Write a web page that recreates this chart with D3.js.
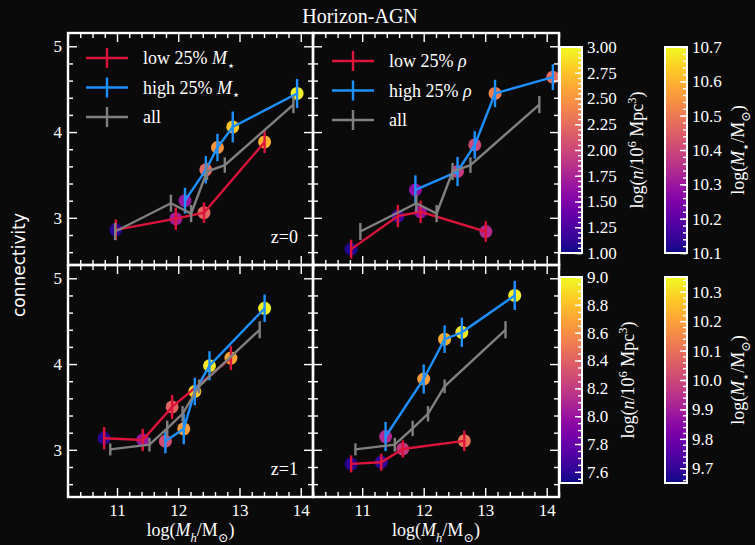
<!DOCTYPE html>
<html><head><meta charset="utf-8">
<script src="https://cdn.jsdelivr.net/npm/d3@7"></script>
<style>body{margin:0;background:#0a0a0a}svg{display:block}</style>
</head><body><svg id="c" width="755" height="545"></svg>
<script>
// ---------------- data ----------------
const xDomain = [10.2, 14.2];
const yDomain = [2.45, 5.155];
const xTicks = [11, 12, 13, 14];
const yTicks = [3, 4, 5];
// each row: [log(Mh/Msun), connectivity, error, colour value]
const z0_lowMstar  = [[10.98,2.86,0.12,1.10],[11.96,2.99,0.13,1.70],[12.42,3.06,0.12,2.22],[13.41,3.885,0.13,2.66]];
const z0_highMstar = [[12.11,3.20,0.15,1.66],[12.45,3.56,0.16,2.22],[12.64,3.82,0.16,2.50],[12.89,4.06,0.18,2.76],[13.94,4.45,0.17,2.96]];
const z0_lowRho    = [[10.82,2.635,0.11,10.12],[11.58,3.02,0.13,10.16],[11.95,3.07,0.13,10.28],[13.01,2.84,0.12,10.34]];
const z0_highRho   = [[11.865,3.325,0.17,10.28],[12.55,3.54,0.17,10.38],[12.83,3.85,0.16,10.40],[13.16,4.45,0.16,10.51],[14.10,4.64,0.15,10.47]];
const z0_all       = [[10.97,2.84,0.10],[11.88,3.17,0.10],[12.21,3.05,0.10],[12.47,3.54,0.10],[12.76,3.615,0.09],[13.88,4.32,0.10]];
const z1_lowMstar  = [[10.79,3.135,0.13,7.59],[11.42,3.115,0.13,8.01],[11.90,3.50,0.14,8.41],[12.86,4.07,0.14,8.70]];
const z1_highMstar = [[11.79,3.10,0.14,8.29],[12.09,3.245,0.18,8.67],[12.27,3.68,0.16,8.85],[12.51,3.98,0.17,8.94],[13.41,4.65,0.16,8.97]];
const z1_lowRho    = [[10.82,2.836,0.10,9.685],[11.31,2.855,0.10,9.70],[11.66,3.01,0.10,9.965],[12.66,3.105,0.12,10.105]];
const z1_highRho   = [[11.38,3.155,0.17,9.93],[12.00,3.826,0.17,10.19],[12.34,4.29,0.16,10.22],[12.62,4.37,0.17,10.315],[13.48,4.80,0.17,10.335]];
const z1_all       = [[10.89,3.005,0.07],[11.53,3.06,0.08],[11.82,3.25,0.09],[12.07,3.42,0.09],[12.34,3.74,0.08],[13.33,4.40,0.10]];
// colour bars
const cbDensZ0 = [1.0, 3.0],   cbDensZ0Ticks = d3.range(1.0, 3.001, 0.25),  cbDensZ0Minor = d3.range(1.0, 3.001, 0.05);
const cbMstZ0  = [10.1, 10.7], cbMstZ0Ticks  = d3.range(10.1, 10.701, 0.1), cbMstZ0Minor  = d3.range(10.1, 10.701, 0.02);
const cbDensZ1 = [7.52, 9.0],  cbDensZ1Ticks = d3.range(7.6, 9.001, 0.2),   cbDensZ1Minor = d3.range(7.55, 9.001, 0.05);
const cbMstZ1  = [9.65, 10.35],cbMstZ1Ticks  = d3.range(9.7, 10.301, 0.1), cbMstZ1Minor  = d3.range(9.66, 10.35, 0.02);

const RED = "#dc143c", BLUE = "#1e90ff", GREY = "#808080", FG = "#ffffff", BG = "#0a0a0a";
const SERIF = "'Liberation Serif','DejaVu Serif',serif";

const svg = d3.select("#c");
svg.append("rect").attr("width",755).attr("height",545).attr("fill",BG);

// rich text helper
function rich(sel, parts, size) {
  let off = 0;
  parts.forEach(p => {
    const ts = sel.append("tspan").text(p.t);
    let target = 0, fs = size;
    if (p.s === "sub") { target = size*0.32; fs = size*0.7; }
    if (p.s === "sup") { target = -size*0.38; fs = size*0.7; }
    ts.attr("dy", target - off).attr("font-size", fs);
    if (p.i) ts.attr("font-style","italic");
    off = target;
  });
}
const lblMstar = [{t:"log("},{t:"M",i:1},{t:"\u22c6",s:"sub"},{t:"/M"},{t:"\u2299",s:"sub"},{t:")"}];
const lblDens  = [{t:"log("},{t:"n",i:1},{t:"/10"},{t:"6",s:"sup"},{t:" Mpc"},{t:"3",s:"sup"},{t:")"}];
const lblMh    = [{t:"log("},{t:"M",i:1},{t:"h",i:1,s:"sub"},{t:"/M"},{t:"\u2299",s:"sub"},{t:")"}];

const panels = [
  {x0:68, x1:313, y0:33,  y1:265, low:z0_lowMstar, high:z0_highMstar, all:z0_all, cd:cbDensZ0, showY:true,  showX:false, z:"z=0",
   leg:[[{t:"low 25% "},{t:"M",i:1},{t:"\u22c6",s:"sub"}],[{t:"high 25% "},{t:"M",i:1},{t:"\u22c6",s:"sub"}],[{t:"all"}]], lx:86, ly:58},
  {x0:313,x1:559, y0:33,  y1:265, low:z0_lowRho, high:z0_highRho, all:z0_all, cd:cbMstZ0, showY:false, showX:false, z:null,
   leg:[[{t:"low 25% "},{t:"\u03c1",i:1}],[{t:"high 25% "},{t:"\u03c1",i:1}],[{t:"all"}]], lx:332, ly:61},
  {x0:68, x1:313, y0:265, y1:497, low:z1_lowMstar, high:z1_highMstar, all:z1_all, cd:cbDensZ1, showY:true,  showX:true, z:"z=1", leg:null},
  {x0:313,x1:559, y0:265, y1:497, low:z1_lowRho, high:z1_highRho, all:z1_all, cd:cbMstZ1, showY:false, showX:true, z:null, leg:null}
];

function styleAxis(g, labels) {
  g.select(".domain").remove();
  g.selectAll(".tick line").attr("stroke",FG).attr("stroke-width",1.4);
  g.selectAll(".tick text").attr("fill",FG).attr("font-family",SERIF).attr("font-size",17);
  if (!labels) g.selectAll(".tick text").remove();
}
const minorX = d3.range(10.2, 14.21, 0.2).filter(v => Math.abs(v-Math.round(v))>1e-6);
const minorY = d3.range(2.6, 5.155, 0.2).filter(v => Math.abs(v-Math.round(v))>1e-6);

panels.forEach((p, i) => {
  const x = d3.scaleLinear(xDomain, [p.x0, p.x1]);
  const y = d3.scaleLinear(yDomain, [p.y1, p.y0]);
  const col = d3.scaleSequential(d3.interpolatePlasma).domain(p.cd);
  const g = svg.append("g");
  const cid = "clip"+i;
  svg.append("clipPath").attr("id",cid).append("rect")
    .attr("x",p.x0).attr("y",p.y0).attr("width",p.x1-p.x0).attr("height",p.y1-p.y0);
  const d = g.append("g").attr("clip-path",`url(#${cid})`);
  // coloured markers
  [p.low, p.high].forEach(s => {
    d.selectAll(null).data(s).join("circle")
      .attr("cx",r=>x(r[0])).attr("cy",r=>y(r[1])).attr("r",6.5).attr("fill",r=>col(r[3]));
  });
  // lines + error bars
  [[p.low,RED],[p.high,BLUE],[p.all,GREY]].forEach(([s,c]) => {
    d.append("path").datum(s).attr("fill","none").attr("stroke",c).attr("stroke-width",2.4)
      .attr("d", d3.line().x(r=>x(r[0])).y(r=>y(r[1])));
    d.selectAll(null).data(s).join("line")
      .attr("x1",r=>x(r[0])).attr("x2",r=>x(r[0]))
      .attr("y1",r=>y(r[1]-r[2])).attr("y2",r=>y(r[1]+r[2]))
      .attr("stroke",c).attr("stroke-width",2.4);
  });
  // ticks
  const L = g.append("g").attr("transform",`translate(${p.x0},0)`);
  L.call(d3.axisLeft(y).tickValues(yTicks).tickSize(-9).tickPadding(6).tickFormat(d3.format("d"))); styleAxis(L, p.showY);
  const Lm = g.append("g").attr("transform",`translate(${p.x0},0)`);
  Lm.call(d3.axisLeft(y).tickValues(minorY).tickSize(-5)); styleAxis(Lm, false);
  const R = g.append("g").attr("transform",`translate(${p.x1},0)`);
  R.call(d3.axisRight(y).tickValues(yTicks).tickSize(-9)); styleAxis(R, false);
  const Rm = g.append("g").attr("transform",`translate(${p.x1},0)`);
  Rm.call(d3.axisRight(y).tickValues(minorY).tickSize(-5)); styleAxis(Rm, false);
  const B = g.append("g").attr("transform",`translate(0,${p.y1})`);
  B.call(d3.axisBottom(x).tickValues(xTicks).tickSize(-9).tickPadding(7).tickFormat(d3.format("d"))); styleAxis(B, p.showX);
  const Bm = g.append("g").attr("transform",`translate(0,${p.y1})`);
  Bm.call(d3.axisBottom(x).tickValues(minorX).tickSize(-5)); styleAxis(Bm, false);
  const T = g.append("g").attr("transform",`translate(0,${p.y0})`);
  T.call(d3.axisTop(x).tickValues(xTicks).tickSize(-9)); styleAxis(T, false);
  const Tm = g.append("g").attr("transform",`translate(0,${p.y0})`);
  Tm.call(d3.axisTop(x).tickValues(minorX).tickSize(-5)); styleAxis(Tm, false);
  // frame
  g.append("rect").attr("x",p.x0).attr("y",p.y0).attr("width",p.x1-p.x0).attr("height",p.y1-p.y0)
    .attr("fill","none").attr("stroke",FG).attr("stroke-width",2.4);
  // z label
  if (p.z) g.append("text").attr("x",p.x1-15).attr("y",p.y1-22).attr("text-anchor","end")
    .attr("fill",FG).attr("font-family",SERIF).attr("font-size",18).text(p.z);
  // legend
  if (p.leg) {
    [RED,BLUE,GREY].forEach((c,k) => {
      const yy = p.ly + k*29.5;
      g.append("line").attr("x1",p.lx).attr("x2",p.lx+42).attr("y1",yy).attr("y2",yy).attr("stroke",c).attr("stroke-width",2.4);
      g.append("line").attr("x1",p.lx+21).attr("x2",p.lx+21).attr("y1",yy-10).attr("y2",yy+10).attr("stroke",c).attr("stroke-width",2.4);
      const t = g.append("text").attr("x",p.lx+57).attr("y",yy+6).attr("fill",FG).attr("font-family",SERIF).attr("font-size",18);
      rich(t, p.leg[k], 18);
    });
  }
  // x label
  if (p.showX) {
    const t = svg.append("text").attr("x",(p.x0+p.x1)/2).attr("y",536).attr("text-anchor","middle")
      .attr("fill",FG).attr("font-family",SERIF).attr("font-size",18);
    rich(t, lblMh, 18);
  }
});

// title and y label
svg.append("text").attr("x",360).attr("y",23).attr("text-anchor","middle").attr("fill",FG)
  .attr("font-family",SERIF).attr("font-size",20).text("Horizon-AGN");
svg.append("text").attr("transform","translate(25,265) rotate(-90)").attr("text-anchor","middle")
  .attr("fill",FG).attr("font-family","'DejaVu Sans',sans-serif").attr("font-size",17).text("connectivity");

// colour bars
const defs = svg.append("defs");
const grad = defs.append("linearGradient").attr("id","plasma").attr("x1",0).attr("y1",1).attr("x2",0).attr("y2",0);
d3.range(0,1.0001,0.05).forEach(t => grad.append("stop").attr("offset",t).attr("stop-color",d3.interpolatePlasma(t)));

const bars = [
  {x:560, y0:47,  y1:253, dom:cbDensZ0, ticks:cbDensZ0Ticks, minor:cbDensZ0Minor, fmt:".2f", lab:lblDens,  lx:643},
  {x:665, y0:47,  y1:253, dom:cbMstZ0,  ticks:cbMstZ0Ticks,  minor:cbMstZ0Minor,  fmt:".1f", lab:lblMstar, lx:744},
  {x:560, y0:277, y1:483, dom:cbDensZ1, ticks:cbDensZ1Ticks, minor:cbDensZ1Minor, fmt:".1f", lab:lblDens,  lx:634},
  {x:665, y0:277, y1:483, dom:cbMstZ1,  ticks:cbMstZ1Ticks,  minor:cbMstZ1Minor,  fmt:".1f", lab:lblMstar, lx:744}
];
bars.forEach(b => {
  const w = 22;
  const s = d3.scaleLinear(b.dom, [b.y1, b.y0]);
  svg.append("rect").attr("x",b.x).attr("y",b.y0).attr("width",w).attr("height",b.y1-b.y0).attr("fill","url(#plasma)");
  const gm = svg.append("g").attr("transform",`translate(${b.x+w},0)`);
  gm.call(d3.axisRight(s).tickValues(b.minor.filter(v=>v>=b.dom[0]-1e-9&&v<=b.dom[1]+1e-9)).tickSize(-4)); styleAxis(gm,false);
  const ga = svg.append("g").attr("transform",`translate(${b.x+w},0)`);
  ga.call(d3.axisRight(s).tickValues(b.ticks).tickSize(-7).tickPadding(5).tickFormat(d3.format(b.fmt))); styleAxis(ga,true);
  ga.selectAll(".tick text").attr("font-size",17);
  svg.append("rect").attr("x",b.x).attr("y",b.y0).attr("width",w).attr("height",b.y1-b.y0)
    .attr("fill","none").attr("stroke",FG).attr("stroke-width",2);
  const t = svg.append("text").attr("transform",`translate(${b.lx},${(b.y0+b.y1)/2}) rotate(-90)`)
    .attr("text-anchor","middle").attr("fill",FG).attr("font-family",SERIF).attr("font-size",18);
  rich(t, b.lab, 18);
});
</script></body></html>
